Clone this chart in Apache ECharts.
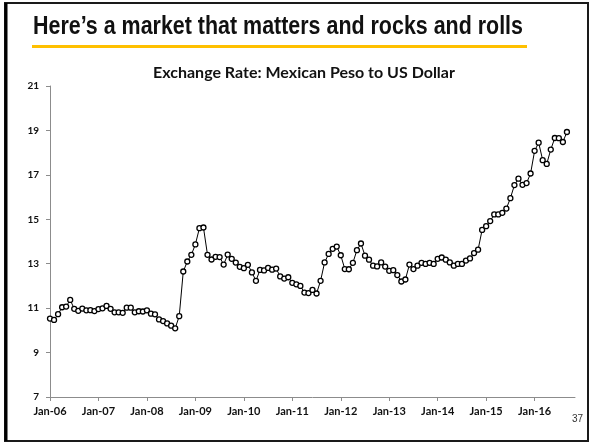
<!DOCTYPE html>
<html>
<head>
<meta charset="utf-8">
<script src="https://cdn.jsdelivr.net/npm/echarts@6/dist/echarts.min.js"></script>
<style>
  html, body { margin: 0; padding: 0; background: #fff; }
  #chart { width: 592px; height: 444px; }
</style>
</head>
<body>
<div id="chart"></div>
<script>
// Monthly average MXN per USD, Jan-2006 through Sep-2016
const startYear = 2006;
const monthNames = ['Jan','Feb','Mar','Apr','May','Jun','Jul','Aug','Sep','Oct','Nov','Dec'];
const rate2006 = [10.53, 10.47, 10.73, 11.04, 11.07, 11.37, 10.97, 10.88, 10.98, 10.90, 10.91, 10.87];
const rate2007 = [10.96, 10.99, 11.10, 10.97, 10.81, 10.81, 10.79, 11.02, 11.02, 10.81, 10.86, 10.85];
const rate2008 = [10.90, 10.75, 10.72, 10.49, 10.42, 10.31, 10.21, 10.09, 10.64, 12.65, 13.10, 13.40];
const rate2009 = [13.87, 14.60, 14.63, 13.40, 13.19, 13.31, 13.30, 12.96, 13.41, 13.22, 13.05, 12.86];
const rate2010 = [12.80, 12.95, 12.61, 12.23, 12.72, 12.70, 12.81, 12.73, 12.78, 12.43, 12.33, 12.39];
const rate2011 = [12.14, 12.07, 12.00, 11.70, 11.68, 11.82, 11.66, 12.23, 13.06, 13.44, 13.67, 13.77];
const rate2012 = [13.38, 12.76, 12.75, 13.04, 13.61, 13.91, 13.36, 13.18, 12.91, 12.88, 13.06, 12.87];
const rate2013 = [12.68, 12.71, 12.49, 12.20, 12.29, 12.96, 12.76, 12.91, 13.04, 12.99, 13.04, 12.99];
const rate2014 = [13.22, 13.28, 13.18, 13.06, 12.91, 12.99, 12.99, 13.14, 13.24, 13.48, 13.63, 14.52];
const rate2015 = [14.69, 14.92, 15.22, 15.22, 15.29, 15.48, 15.95, 16.54, 16.83, 16.55, 16.63, 17.06];
const rate2016 = [18.08, 18.45, 17.66, 17.49, 18.14, 18.66, 18.65, 18.48, 18.93];

const rates = [].concat(rate2006, rate2007, rate2008, rate2009, rate2010, rate2011,
                        rate2012, rate2013, rate2014, rate2015, rate2016);

// Month category labels like "Jan-06"; two spare slots keep the axis running past the last point
const spareSlots = 2;
const categories = [];
for (let i = 0; i < rates.length + spareSlots; i++) {
  const y = startYear + Math.floor(i / 12);
  categories.push(monthNames[i % 12] + '-' + String(y % 100).padStart(2, '0'));
}

const yTicks = { min: 7, max: 21, step: 2 };

const headline = 'Here\u2019s a market that matters and rocks and rolls';
const headlineFont = 'bold 26px "Liberation Sans", Arial, sans-serif';

// Squeeze the headline horizontally so it reads like a condensed face
const measureCtx = document.createElement('canvas').getContext('2d');
measureCtx.font = headlineFont;
const headlineScaleX = 490 / measureCtx.measureText(headline).width;

const chart = echarts.init(document.getElementById('chart'), null, { renderer: 'canvas' });

const labelFont = 'Lato, "Open Sans", sans-serif';

chart.setOption({
  animation: false,
  backgroundColor: '#ffffff',
  grid: { left: 50, right: 17, top: 86, bottom: 47, containLabel: false },
  title: {
    text: 'Exchange Rate: Mexican Peso to US Dollar',
    left: 299, top: 60, textAlign: 'center',
    textStyle: { fontFamily: labelFont, fontWeight: 'bold', fontSize: 16, color: '#111' }
  },
  xAxis: {
    type: 'category',
    data: categories,
    boundaryGap: false,
    axisLine: { lineStyle: { color: '#8c8c8c', width: 1 } },
    axisTick: { interval: 11, length: 4, lineStyle: { color: '#8c8c8c' } },
    axisLabel: {
      interval: 11, margin: 9,
      fontFamily: labelFont, fontWeight: 'bold', fontSize: 11, color: '#111'
    },
    splitLine: { show: false }
  },
  yAxis: {
    type: 'value',
    min: yTicks.min, max: yTicks.max, interval: yTicks.step,
    axisLine: { show: true, lineStyle: { color: '#8c8c8c', width: 1 } },
    axisTick: { show: true, length: 4, lineStyle: { color: '#8c8c8c' } },
    axisLabel: { margin: 11, fontFamily: labelFont, fontWeight: 'bold', fontSize: 10, color: '#111' },
    splitLine: { show: false }
  },
  series: [{
    type: 'line',
    data: rates,
    symbol: 'circle',
    symbolSize: 5,
    showAllSymbol: true,
    lineStyle: { color: '#000', width: 1 },
    itemStyle: { color: '#fff', borderColor: '#000', borderWidth: 1.3 }
  }],
  graphic: [
    // slide frame
    { type: 'rect', shape: { x: 5, y: 3, width: 583, height: 438 },
      style: { fill: 'none', stroke: '#1a1a1a', lineWidth: 2 }, z: 10 },
    { type: 'line', shape: { x1: 6, y1: 3, x2: 6, y2: 441 },
      style: { stroke: '#000', lineWidth: 3 }, z: 11 },
    // headline and underline
    { type: 'text', x: 33, y: 14, scaleX: headlineScaleX,
      style: { text: headline, font: headlineFont, fill: '#111' } },
    { type: 'rect', shape: { x: 32, y: 45, width: 495, height: 3 },
      style: { fill: '#FFC000' } },
    // page number
    { type: 'text', left: 572, top: 414,
      style: { text: '37', font: '10px "Liberation Sans", sans-serif', fill: '#333' } }
  ]
});
</script>
</body>
</html>
